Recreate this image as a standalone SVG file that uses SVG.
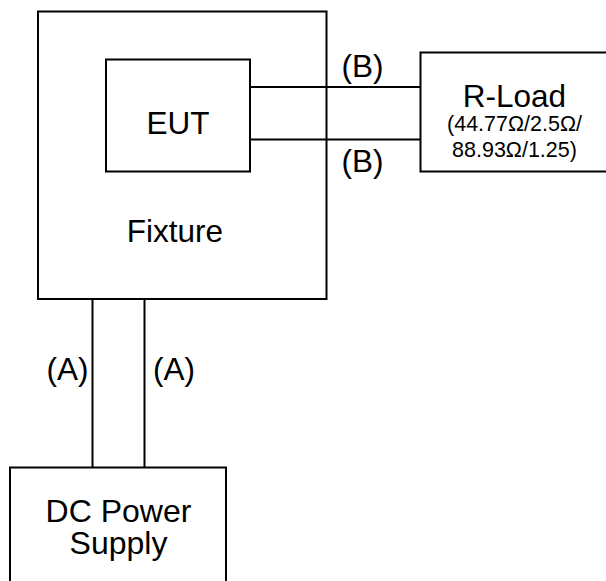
<svg xmlns="http://www.w3.org/2000/svg" width="606" height="581" viewBox="0 0 606 581">
<style>
.box{fill:none;stroke:#000;stroke-width:2}
.wire{stroke:#000;stroke-width:2;fill:none}
.t{font-family:"Liberation Sans",Arial,sans-serif;font-size:31.5px;fill:#000;text-anchor:middle}
.s{font-family:"Liberation Sans",Arial,sans-serif;font-size:21.5px;fill:#000;text-anchor:middle}
</style>
<rect width="606" height="581" fill="#fff"/>
<g id="fixture">
<rect class="box" x="38" y="11.5" width="288.5" height="287.5"/>
<text class="t" x="175" y="241.5">Fixture</text>
</g>
<g id="eut">
<rect class="box" x="106" y="59.5" width="144" height="112"/>
<text class="t" x="178" y="133.5">EUT</text>
</g>
<g id="rload">
<rect class="box" x="420.5" y="52.5" width="200" height="119"/>
<text class="t" x="514.5" y="106.5">R-Load</text>
<text class="s" x="514.5" y="131">(44.77Ω/2.5Ω/</text>
<text class="s" x="514.5" y="156.5">88.93Ω/1.25)</text>
</g>
<g id="dcpower">
<rect class="box" x="10" y="467.5" width="216" height="130"/>
<text class="t" x="118.5" y="521.5" style="font-size:32px">DC Power</text>
<text class="t" x="118.5" y="554" style="font-size:32px">Supply</text>
</g>
<g id="connectors">
<line class="wire" x1="250" y1="87" x2="420.5" y2="87"/>
<line class="wire" x1="250" y1="139.5" x2="420.5" y2="139.5"/>
<line class="wire" x1="92.5" y1="299" x2="92.5" y2="467.5"/>
<line class="wire" x1="144.5" y1="299" x2="144.5" y2="467.5"/>
<text class="t" x="362.5" y="76.5">(B)</text>
<text class="t" x="362.5" y="171.5">(B)</text>
<text class="t" x="67.5" y="380">(A)</text>
<text class="t" x="174" y="380">(A)</text>
</g>
</svg>
